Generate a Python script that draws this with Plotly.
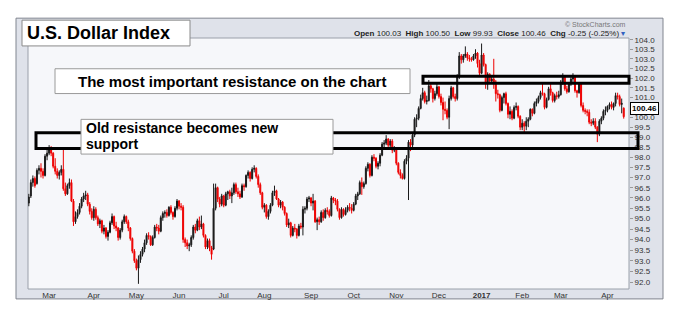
import numpy as np
import pandas as pd
import plotly.graph_objects as go

# ---------------- data ----------------
START, END = "2016-02-16", "2017-04-13"
HOLIDAYS = ["2016-03-25", "2016-05-30", "2016-07-04", "2016-09-05", "2016-11-24",
            "2016-12-26", "2017-01-02", "2017-01-16", "2017-02-20"]
MONTH_LABELS = ["Mar", "Apr", "May", "Jun", "Jul", "Aug", "Sep", "Oct", "Nov", "Dec",
                "<b>2017</b>", "Feb", "Mar", "Apr"]
Y_TICKS = [92.0, 92.5, 93.0, 93.5, 94.0, 94.5, 95.0, 95.5, 96.0, 96.5, 97.0, 97.5, 98.0,
           98.5, 99.0, 99.5, 100.0, 100.5, 101.0, 101.5, 102.0, 102.5, 103.0, 103.5, 104.0]

OPEN = [
    95.75, 96.10, 96.75, 96.95, 96.70, 97.35, 97.45, 97.30, 97.10, 98.05,
    98.20, 98.40, 98.20, 97.55, 97.30, 97.10, 97.25, 97.40, 96.45, 96.20, 96.60, 96.75, 95.85, 94.85, 95.10, 95.30, 95.60, 95.95, 96.10, 96.15, 95.70, 95.35,
    95.05, 95.45, 95.05, 94.75, 94.90, 94.40, 94.55, 94.15, 94.35, 94.80, 95.10, 94.65, 94.55, 94.10, 94.45, 94.85, 95.10, 94.85, 94.55, 94.05, 93.45,
    93.00, 92.65, 93.05, 93.30, 93.55, 93.85, 94.20, 94.15, 93.75, 94.10, 94.60, 94.55, 94.40, 95.05, 95.25, 95.30, 95.15, 95.55, 95.30, 95.10, 95.50,
    95.85, 95.60, 95.55, 94.00, 93.85, 93.70, 93.75, 94.10, 94.60, 94.45, 94.90, 94.60, 94.75, 94.20, 93.65, 93.95, 93.60, 93.55, 95.50, 96.50, 95.95, 95.70,
    96.10, 95.65, 96.20, 96.30, 96.10, 96.25, 96.65, 96.30, 96.20, 96.05, 96.60, 96.55, 97.10, 97.25, 96.95, 97.40, 97.45, 97.05, 96.65, 96.25,
    95.55, 95.65, 95.10, 95.35, 95.65, 96.25, 96.35, 95.95, 95.65, 95.80, 95.55, 95.25, 94.70, 94.80, 94.20, 94.55, 94.50, 94.20, 94.65, 94.60, 95.45, 95.50, 95.95,
    96.00, 95.75, 95.85, 94.85, 94.95, 94.85, 95.30, 95.05, 95.40, 95.35, 95.15, 96.00, 95.90, 95.85, 95.45, 95.05, 95.45, 95.20, 95.40, 95.55, 95.50,
    95.40, 95.70, 96.10, 96.20, 96.75, 96.55, 96.70, 97.45, 97.65, 97.10, 98.00, 97.95, 97.55, 97.70, 98.10, 98.65, 98.70, 98.90, 98.60, 98.80, 98.35,
    98.40, 97.70, 97.25, 97.10, 96.95, 97.80, 97.95, 98.75, 98.60, 99.10, 99.90, 99.95, 100.45, 100.95, 101.25, 100.80, 100.85, 101.60, 101.45, 100.95, 101.20,
    101.55, 101.05, 100.75, 100.40, 100.35, 100.00, 100.95, 101.50, 101.05, 100.95, 102.05, 103.15, 102.95, 103.15, 103.25, 103.05, 103.00, 102.95, 103.15, 103.30, 102.75,
    102.25, 103.20, 102.70, 101.70, 102.20, 101.85, 101.95, 101.80, 101.20, 101.15, 100.35, 101.00, 101.20, 100.70, 100.15, 100.30, 99.95, 100.50, 100.55, 100.05,
    99.50, 99.70, 99.55, 99.80, 99.90, 100.40, 100.20, 100.70, 100.80, 101.00, 101.25, 101.20, 100.50, 100.90, 101.45, 101.25, 100.85, 101.10, 101.05,
    101.15, 101.80, 102.05, 101.45, 101.30, 101.70, 101.95, 102.05, 101.35, 101.25, 101.70, 100.60, 100.35, 100.30, 100.25, 99.75, 99.70, 99.80, 99.50, 99.15, 99.80, 99.95, 100.30,
    100.35, 100.55, 100.65, 100.50, 100.70, 101.10, 101.05, 100.65, 100.03,
]
HIGH = [
    96.20, 96.90, 97.10, 97.05, 97.45, 97.60, 97.70, 97.45, 98.15, 98.45,
    98.60, 98.55, 98.25, 97.95, 97.45, 97.35, 97.60, 98.40, 96.75, 96.70, 96.95, 96.90, 95.95, 95.35, 95.45, 95.75, 96.05, 96.25, 96.35, 96.25, 95.80, 95.50,
    95.60, 95.55, 95.15, 95.00, 94.95, 94.70, 94.60, 94.45, 94.90, 95.25, 95.15, 94.85, 94.60, 94.55, 94.95, 95.20, 95.15, 94.95, 94.60, 94.10, 93.55,
    93.10, 93.25, 93.45, 93.65, 94.00, 94.30, 94.35, 94.20, 94.20, 94.70, 94.75, 94.70, 95.15, 95.35, 95.40, 95.45, 95.60, 95.65, 95.35, 95.60, 95.95,
    95.90, 95.75, 95.65, 94.10, 94.00, 93.85, 94.20, 94.70, 94.75, 95.00, 95.10, 95.15, 94.80, 94.25, 94.05, 94.05, 93.70, 96.70, 96.70, 96.55, 96.05, 96.20,
    96.15, 96.30, 96.35, 96.40, 96.50, 96.75, 96.75, 96.50, 96.35, 96.70, 96.70, 97.15, 97.35, 97.30, 97.50, 97.60, 97.50, 97.15, 96.75, 96.30,
    95.75, 95.70, 95.45, 95.75, 96.35, 96.60, 96.40, 96.00, 95.90, 95.85, 95.60, 95.30, 95.00, 94.85, 94.65, 94.75, 94.55, 94.75, 94.80, 95.60, 95.60, 96.05, 96.10,
    96.05, 96.20, 95.90, 95.05, 95.10, 95.40, 95.45, 95.50, 95.55, 95.45, 96.10, 96.05, 96.00, 95.95, 95.50, 95.55, 95.50, 95.55, 95.65, 95.75, 95.70,
    95.80, 96.20, 96.30, 96.85, 97.00, 96.80, 97.55, 97.75, 97.70, 98.10, 98.15, 98.00, 97.80, 98.20, 98.75, 98.85, 99.10, 98.95, 98.90, 98.90, 98.55,
    98.50, 97.75, 97.40, 97.20, 97.90, 98.10, 98.85, 98.90, 99.20, 100.00, 100.15, 100.55, 101.15, 101.50, 101.35, 101.10, 101.90, 101.75, 101.50, 101.35, 101.75,
    101.60, 101.20, 101.00, 100.80, 100.45, 101.10, 101.60, 101.55, 101.20, 102.20, 103.35, 103.25, 103.25, 103.65, 103.35, 103.20, 103.10, 103.25, 103.50, 103.35, 102.95,
    103.80, 103.30, 102.75, 102.30, 102.25, 102.10, 103.00, 101.90, 101.40, 101.20, 101.10, 101.25, 101.30, 100.75, 100.55, 100.40, 100.60, 100.75, 100.60, 100.10,
    99.90, 99.80, 100.00, 100.00, 100.45, 100.45, 100.80, 100.95, 101.10, 101.35, 101.75, 101.25, 101.00, 101.55, 101.70, 101.30, 101.20, 101.30, 101.35,
    101.90, 102.25, 102.10, 101.60, 101.80, 102.05, 102.25, 102.15, 101.40, 101.80, 101.75, 100.75, 100.45, 100.40, 100.40, 99.90, 99.95, 99.95, 99.55, 99.90, 100.05, 100.40, 100.55,
    100.60, 100.75, 100.80, 100.75, 101.25, 101.25, 101.15, 100.95, 100.50,
]
LOW = [
    95.60, 96.00, 96.55, 96.50, 96.65, 97.15, 97.00, 96.95, 97.05, 97.85,
    98.10, 98.05, 97.45, 97.15, 96.95, 96.90, 97.10, 96.35, 96.10, 96.15, 96.45, 95.80, 94.65, 94.75, 95.00, 95.20, 95.50, 95.80, 95.90, 95.60, 95.20, 94.95,
    94.90, 94.95, 94.65, 94.55, 94.30, 94.25, 94.05, 93.95, 94.30, 94.70, 94.50, 94.40, 93.95, 94.00, 94.35, 94.75, 94.75, 94.40, 93.95, 93.35, 92.90,
    92.55, 91.92, 92.90, 93.20, 93.40, 93.75, 94.00, 93.70, 93.70, 94.05, 94.40, 94.25, 94.35, 94.90, 95.05, 95.05, 95.10, 95.20, 94.95, 95.05, 95.40,
    95.45, 95.40, 93.85, 93.65, 93.55, 93.45, 93.65, 94.00, 94.30, 94.40, 94.45, 94.50, 94.10, 93.55, 93.55, 93.45, 93.05, 93.50, 95.40, 95.80, 95.55, 95.60,
    95.55, 95.60, 95.90, 95.95, 95.75, 96.15, 96.20, 96.05, 95.95, 96.00, 96.35, 96.50, 96.95, 96.80, 96.90, 97.25, 96.95, 96.50, 96.15, 95.45,
    95.30, 95.00, 94.95, 95.25, 95.60, 96.10, 95.90, 95.55, 95.50, 95.40, 95.15, 94.60, 94.55, 94.10, 94.15, 94.35, 94.05, 94.15, 94.50, 94.20, 95.25, 95.40, 95.80,
    95.60, 95.40, 94.80, 94.45, 94.70, 94.80, 94.90, 95.00, 95.20, 95.05, 95.10, 95.75, 95.65, 95.35, 94.95, 95.00, 95.10, 95.15, 95.30, 95.35, 95.25,
    95.35, 95.65, 95.90, 96.15, 96.15, 96.45, 96.65, 97.30, 97.00, 97.05, 97.80, 97.45, 97.40, 97.55, 98.05, 98.50, 98.60, 98.45, 98.50, 98.20, 98.25,
    97.60, 97.15, 96.95, 96.90, 96.90, 97.65, 95.90, 98.30, 98.50, 99.00, 99.50, 99.85, 100.40, 100.85, 100.70, 100.65, 100.80, 101.25, 100.75, 100.85, 101.10,
    100.95, 100.60, 99.85, 100.15, 99.90, 99.40, 100.85, 100.95, 100.80, 100.85, 101.95, 102.75, 102.80, 103.05, 102.90, 102.85, 102.85, 102.90, 103.00, 102.55, 102.10,
    102.20, 102.60, 101.45, 101.40, 101.75, 101.70, 101.45, 100.80, 100.95, 100.25, 100.30, 100.70, 100.60, 99.95, 99.90, 99.85, 99.90, 100.35, 99.95, 99.35,
    99.35, 99.25, 99.35, 99.50, 99.85, 100.05, 100.15, 100.55, 100.70, 100.90, 101.10, 100.40, 100.45, 100.85, 101.10, 100.75, 100.75, 100.90, 100.95,
    101.10, 101.65, 101.35, 101.20, 101.25, 101.60, 101.80, 101.25, 101.00, 101.20, 100.50, 100.25, 100.15, 100.05, 99.65, 99.55, 99.60, 99.40, 98.75, 99.05, 99.65, 99.85, 100.10,
    100.25, 100.40, 100.40, 100.35, 100.55, 100.90, 100.55, 100.20, 99.93,
]
CLOSE = [
    96.05, 96.75, 96.95, 96.60, 97.35, 97.45, 97.30, 97.10, 98.05, 98.20,
    98.40, 98.20, 97.55, 97.30, 97.10, 97.25, 97.40, 96.45, 96.20, 96.60, 96.75, 95.85, 94.85, 95.10, 95.30, 95.60, 95.95, 96.10, 96.15, 95.70, 95.35, 95.05,
    95.45, 95.05, 94.75, 94.90, 94.40, 94.55, 94.15, 94.35, 94.80, 95.10, 94.65, 94.55, 94.10, 94.45, 94.85, 95.10, 94.85, 94.55, 94.05, 93.45, 93.00,
    92.65, 93.05, 93.30, 93.55, 93.85, 94.20, 94.15, 93.75, 94.10, 94.60, 94.55, 94.40, 95.05, 95.25, 95.30, 95.15, 95.55, 95.30, 95.10, 95.50, 95.85,
    95.60, 95.55, 94.00, 93.85, 93.70, 93.75, 94.10, 94.60, 94.45, 94.90, 94.60, 94.75, 94.20, 93.65, 93.95, 93.60, 93.30, 95.50, 96.50, 95.95, 95.70, 96.10,
    95.65, 96.20, 96.30, 96.10, 96.25, 96.65, 96.30, 96.20, 96.05, 96.60, 96.55, 97.10, 97.25, 96.95, 97.40, 97.45, 97.05, 96.65, 96.25, 95.55,
    95.65, 95.10, 95.35, 95.65, 96.25, 96.35, 95.95, 95.65, 95.80, 95.55, 95.25, 94.70, 94.80, 94.20, 94.55, 94.50, 94.20, 94.65, 94.60, 95.45, 95.50, 95.95, 96.00,
    95.75, 95.85, 94.85, 94.95, 94.85, 95.30, 95.05, 95.40, 95.35, 95.15, 96.00, 95.90, 95.85, 95.45, 95.05, 95.45, 95.20, 95.40, 95.55, 95.50, 95.40,
    95.70, 96.10, 96.20, 96.75, 96.55, 96.70, 97.45, 97.65, 97.10, 98.00, 97.95, 97.55, 97.70, 98.10, 98.65, 98.70, 98.90, 98.60, 98.80, 98.35, 98.40,
    97.70, 97.25, 97.10, 96.95, 97.80, 97.95, 98.75, 98.60, 99.10, 99.90, 99.95, 100.45, 100.95, 101.25, 100.80, 100.85, 101.60, 101.45, 100.95, 101.20, 101.55,
    101.05, 100.75, 100.40, 100.35, 100.00, 100.95, 101.50, 101.05, 100.95, 102.05, 103.15, 102.95, 103.15, 103.25, 103.05, 103.00, 102.95, 103.15, 103.30, 102.75, 102.25,
    103.20, 102.70, 101.70, 102.20, 101.85, 101.95, 101.80, 101.20, 101.15, 100.35, 101.00, 101.20, 100.70, 100.15, 100.30, 99.95, 100.50, 100.55, 100.05, 99.50,
    99.70, 99.55, 99.80, 99.90, 100.40, 100.20, 100.70, 100.80, 101.00, 101.25, 101.20, 100.50, 100.90, 101.45, 101.25, 100.85, 101.10, 101.05, 101.15,
    101.80, 102.05, 101.45, 101.30, 101.70, 101.95, 102.05, 101.35, 101.25, 101.70, 100.60, 100.35, 100.30, 100.25, 99.75, 99.70, 99.80, 99.50, 99.15, 99.80, 99.95, 100.30, 100.35,
    100.55, 100.65, 100.50, 100.70, 101.10, 101.05, 100.65, 100.71, 100.46,
]

# ---------------- calendar ----------------
dates = [d.strftime("%Y-%m-%d") for d in pd.bdate_range(START, END)
         if d.strftime("%Y-%m-%d") not in HOLIDAYS]
n = min(len(dates), len(OPEN), len(HIGH), len(LOW), len(CLOSE))
dates = dates[:n]
o = np.array(OPEN[:n]); h = np.array(HIGH[:n]); l = np.array(LOW[:n]); c = np.array(CLOSE[:n])

tick_dates = []
seen = set()
for d in dates:
    ym = d[:7]
    if ym not in seen:
        seen.add(ym)
        tick_dates.append(d)
tick_dates = tick_dates[1:1 + len(MONTH_LABELS)]

prev = np.concatenate([[c[0]], c[:-1]])
up = c >= prev

# ---------------- layout helpers (pixel -> paper) ----------------
PL, PR, PT, PB = 28, 629, 38, 291
def fx(px):
    return (px - PL) / (PR - PL)
def fy(py):
    return (PB - py) / (PB - PT)

BLACK, RED = "#1a1a1a", "#ee0000"

fig = go.Figure()
for mask, col in [(up, BLACK), (~up, RED)]:
    idx = np.where(mask)[0]
    fig.add_trace(go.Candlestick(
        x=[dates[i] for i in idx], open=o[idx], high=h[idx], low=l[idx], close=c[idx],
        increasing=dict(line=dict(color=col, width=1), fillcolor=col),
        decreasing=dict(line=dict(color=col, width=1), fillcolor=col),
        whiskerwidth=0, showlegend=False, hoverinfo="skip"))

def rect(x0, y0, x1, y1, fill=None, line="#999", width=1, layer="above"):
    return dict(type="rect", xref="paper", yref="paper",
                x0=fx(x0), x1=fx(x1), y0=fy(y1), y1=fy(y0),
                fillcolor=fill if fill else "rgba(0,0,0,0)",
                line=dict(color=line, width=width), layer=layer)

shapes = [
    rect(16, 18, 663, 301, fill="#dfe2ea", line="#80858f", width=1, layer="below"),
    rect(PL, PT, PR, PB, fill="#f6f7fa", line="#9aa0aa", width=1, layer="below"),
    rect(36, 133.5, 638, 149.5, line="#000000", width=3),
    rect(81, 120, 333, 155, fill="#ffffff", line="#9a9a9a", width=1),
    rect(423, 76.5, 629, 83.5, line="#000000", width=3),
    rect(55, 69, 410, 94, fill="#ffffff", line="#9a9a9a", width=1),
    rect(22, 20, 190, 46, fill="#ffffff", line="#8a8a8a", width=1),
]

FONT = "Liberation Sans, Arial, sans-serif"
chg = c[-1] - c[-2]
pct = chg / c[-2] * 100
header = (f"<b>Open</b> {o[-1]:.2f}  <b>High</b> {h[-1]:.2f}  <b>Low</b> {l[-1]:.2f}  "
          f"<b>Close</b> {c[-1]:.2f}  <b>Chg</b> {chg:.2f} ({pct:.2f}%) "
          f"<span style='color:#3060c0'>▾</span>")

def ann(text, x, y, size, xanchor="left", color="#000", **kw):
    d = dict(text=text, x=x, y=y, xref="paper", yref="paper", xanchor=xanchor,
             yanchor="middle", showarrow=False, font=dict(family=FONT, size=size, color=color))
    d.update(kw)
    return d

annotations = [
    ann("<b>U.S. Dollar Index</b>", fx(25), fy(33), 18),
    ann(header, fx(627), fy(33), 8, xanchor="right", color="#222"),
    ann("© StockCharts.com", fx(628), fy(24), 7, xanchor="right", color="#777"),
    ann("<b>The most important resistance on the chart</b>", fx(232.5), fy(81.5), 15, xanchor="center"),
    ann("<b>Old resistance becomes new</b>", fx(84), fy(129), 14),
    ann("<b>support</b>", fx(84), fy(145), 14),
    dict(text=f"<b>{c[-1]:.2f}</b>", x=fx(644), y=np.log10(c[-1]), xref="paper", yref="y",
         xanchor="center", yanchor="middle", showarrow=False, bgcolor="#ffffff",
         bordercolor="#000000", borderwidth=1, borderpad=1,
         font=dict(family=FONT, size=8, color="#000")),
]

# the last-price tag hides the tick label right behind it (as in the original)
tick_text = ["" if abs(v - c[-1]) < 0.25 else f"{v:.1f}" for v in Y_TICKS]

fig.update_layout(
    width=675, height=312, margin=dict(l=PL, r=675 - PR, t=PT, b=312 - PB),
    paper_bgcolor="#ffffff", plot_bgcolor="rgba(0,0,0,0)", showlegend=False,
    font=dict(family=FONT, size=8, color="#333"),
    shapes=shapes, annotations=annotations,
)
fig.update_xaxes(type="category", categoryorder="array", categoryarray=dates,
                 range=[-0.4, 295.6], tickvals=tick_dates, ticktext=MONTH_LABELS,
                 showgrid=False, rangeslider_visible=False, showline=False, ticks="",
                 tickfont=dict(size=8, color="#333"), fixedrange=True)
fig.update_yaxes(type="log", side="right", range=[np.log10(91.68), np.log10(104.09)],
                 tickvals=Y_TICKS, ticktext=tick_text,
                 showgrid=False, zeroline=False, ticks="outside", ticklen=3,
                 tickcolor="#999", tickfont=dict(size=8, color="#333"), fixedrange=True)

fig.write_html("out.html")
